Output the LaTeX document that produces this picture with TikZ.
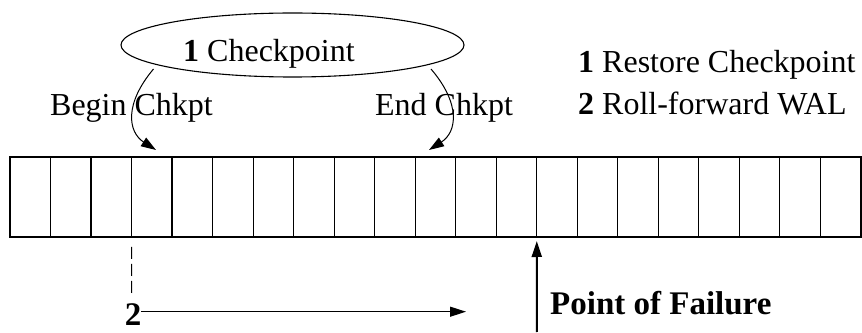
\documentclass[tikz,border=0pt]{standalone}
\usepackage{fontspec}
\setmainfont{Liberation Serif}
\usetikzlibrary{arrows.meta,shapes.geometric}
\begin{document}
\begin{tikzpicture}[x=1pt,y=1pt,
  cell/.style={draw,line width=1.2pt,minimum width=40.52pt,minimum height=80pt,inner sep=0pt,outer sep=0pt},
  lbl/.style={font=\fontsize{32}{38}\selectfont,inner sep=0pt},
  blbl/.style={font=\fontsize{33}{38}\selectfont\bfseries,inner sep=0pt},
  arr/.style={line width=1pt,-{Triangle[length=15pt,width=10pt]}},
  ]
\useasboundingbox (0,0) rectangle (862,332);
% log strip
\foreach \i in {0,...,20}
  \node[cell] (c\i) at ({10+40.52*\i+20.26},135) {};
% checkpoint ellipse
\node[ellipse,draw,line width=1.1pt,minimum width=343pt,minimum height=64pt,inner sep=0pt] (ck) at (292.5,287) {};
\node[lbl,anchor=base] (ckt) at (269,270) {\textbf{1} Checkpoint};
% begin/end labels
\node[lbl] (bl) at (131.5,224) {Begin Chkpt};
\node[lbl] (el) at (444,224) {End Chkpt};
% arrows from checkpoint to log
\coordinate (bs) at (153.5,263);
\coordinate (bt) at (156,182);
\coordinate (es) at (431,263);
\coordinate (et) at (429,182);
\draw[arr] (bs) .. controls (124,228) and (128,200) .. (bt);
\draw[arr] (es) .. controls (461,228) and (457,200) .. (et);
% recovery steps
\node[lbl,anchor=west] (r1) at (578,267) {\textbf{1} Restore Checkpoint};
\node[lbl,anchor=west] (r2) at (578,229) {\textbf{2} Roll-forward WAL};
% dashed marker and roll-forward arrow
\coordinate (dtop) at (c2.south east);
\coordinate (dbot) at (131.5,39);
\draw[line width=1pt,dash pattern=on 12pt off 5pt] ([yshift=-10pt]dtop) -- (dbot);
\node[blbl] (two) at (133,17.5) {2};
\coordinate (rf) at (466,20.3);
\draw[line width=1.2pt,-{Triangle[length=16pt,width=10pt]}] (two.east |- rf) -- (rf);
% point of failure
\coordinate (pf) at (536.9,0);
\draw[line width=2pt,-{Triangle[length=16pt,width=10pt]}] (pf) -- ([yshift=-4pt]c13.south west);
\node[blbl,anchor=west] (pft) at (550,29) {Point of Failure};
\end{tikzpicture}
\end{document}
